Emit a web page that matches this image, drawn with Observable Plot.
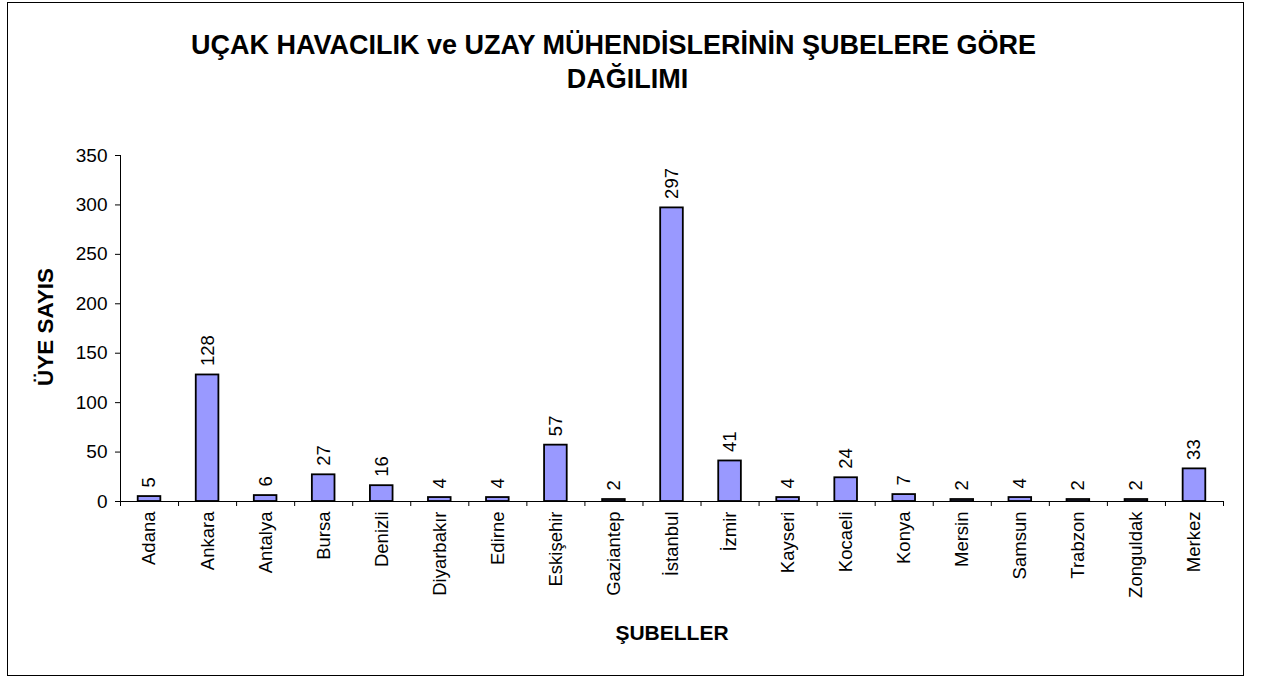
<!DOCTYPE html>
<html><head><meta charset="utf-8">
<script src="https://cdn.jsdelivr.net/npm/d3@7"></script>
<script src="https://cdn.jsdelivr.net/npm/@observablehq/plot@0.6"></script>
<style>
body{margin:0;background:#fff;font-family:"Liberation Sans",Arial,sans-serif;color:#000;}
#wrap{position:relative;width:1261px;height:677px;overflow:hidden;}
#border{position:absolute;left:7px;top:2px;width:1235px;height:672px;border:1px solid #000;}
#chart{position:absolute;left:0;top:0;}
.t{position:absolute;width:1261px;text-align:center;font-weight:bold;font-size:27px;line-height:30px;}
#t1{left:-17px;top:30px;}
#t2{left:-3px;top:64px;}
#ytitle{position:absolute;width:200px;left:-54px;top:314px;height:26px;line-height:26px;text-align:center;font-weight:bold;font-size:22.5px;transform:rotate(-90deg);}
#xtitle{position:absolute;width:200px;left:572px;top:620px;height:26px;line-height:26px;text-align:center;font-weight:bold;font-size:21px;}
</style>
</head><body>
<div id="wrap">
<div id="border"></div>
<div id="chart"></div>
<div class="t" id="t1">UÇAK HAVACILIK ve UZAY MÜHENDİSLERİNİN ŞUBELERE GÖRE</div>
<div class="t" id="t2">DAĞILIMI</div>
<div id="ytitle">ÜYE SAYIS</div>
<div id="xtitle">ŞUBELLER</div>
</div>
<script>
const categories = ["Adana","Ankara","Antalya","Bursa","Denizli","Diyarbakır","Edirne","Eskişehir","Gaziantep","İstanbul","İzmir","Kayseri","Kocaeli","Konya","Mersin","Samsun","Trabzon","Zonguldak","Merkez"];
const values = [5,128,6,27,16,4,4,57,2,297,41,4,24,7,2,4,2,2,33];
const yTicks = [0,50,100,150,200,250,300,350];

const data = categories.map((c, i) => ({cat: c, value: values[i], pos: i + 0.5}));
const half = 0.195;

const chart = Plot.plot({
  width: 1261,
  height: 677,
  marginLeft: 120,
  marginRight: 38,
  marginTop: 155,
  marginBottom: 176,
  style: {fontFamily: "Liberation Sans, Arial, sans-serif", fontSize: "19px", color: "#000", background: "transparent", overflow: "visible"},
  x: {type: "linear", domain: [0, categories.length]},
  y: {domain: [0, 350]},
  marks: [
    Plot.rectY(data, {x1: d => d.pos - half, x2: d => d.pos + half, y1: 0, y2: "value", fill: "#9999FF", stroke: "#000", strokeWidth: 1.8}),
    Plot.ruleY([0], {stroke: "#000", strokeWidth: 1}),
    Plot.ruleX([0], {y1: 0, y2: 350, stroke: "#000", strokeWidth: 1}),
    Plot.axisY({ticks: yTicks, tickSize: 5, tickPadding: 8, fontSize: 19, label: null, strokeOpacity: 1}),
    Plot.axisX({ticks: d3.range(0, categories.length + 1), tickSize: 5, tickFormat: () => "", label: null, strokeOpacity: 1}),
    Plot.text(data, {x: "pos", y: 0, text: "cat", rotate: -90, textAnchor: "end", dy: 10, fontSize: 18.5, fill: "#000"}),
    Plot.text(data, {x: "pos", y: "value", text: d => String(d.value), rotate: -90, textAnchor: "start", dy: -9, fontSize: 18.5, fill: "#000"})
  ]
});
document.getElementById("chart").appendChild(chart);
</script>
</body></html>
